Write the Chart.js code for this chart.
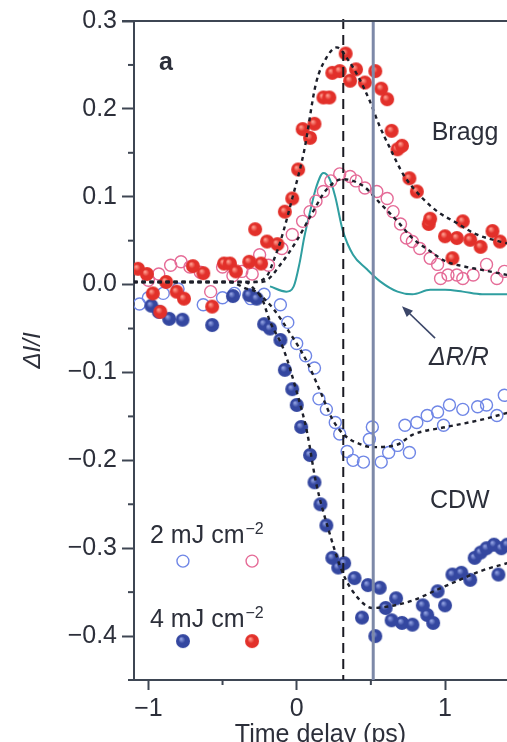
<!DOCTYPE html>
<html>
<head>
<meta charset="utf-8">
<script src="https://cdn.jsdelivr.net/npm/chart.js@4.4.0/dist/chart.umd.min.js"></script>
<style>
  html, body { margin: 0; padding: 0; background: #fff; }
  #wrap { width: 507px; height: 742px; }
</style>
</head>
<body>
<div id="wrap"><canvas id="chart" width="507" height="742"></canvas></div>
<script>
// time delay (ps), dI/I
const bragg4 = [[-1.07,0.018],[-1.01,0.012],[-0.97,-0.010],[-0.92,-0.031],[-0.88,0.003],[-0.81,-0.008],[-0.76,-0.016],[-0.70,0.021],[-0.63,0.013],[-0.57,-0.025],[-0.49,0.024],[-0.45,0.024],[-0.41,0.015],[-0.32,0.026],[-0.28,0.063],[-0.24,0.024],[-0.20,0.049],[-0.13,0.046],[-0.08,0.083],[-0.03,0.098],[0.01,0.131],[0.04,0.177],[0.09,0.167],[0.12,0.183],[0.18,0.213],[0.22,0.213],[0.24,0.241],[0.29,0.243],[0.33,0.263],[0.36,0.232],[0.40,0.245],[0.46,0.230],[0.53,0.243],[0.57,0.223],[0.61,0.211],[0.64,0.175],[0.68,0.154],[0.71,0.158],[0.76,0.121],[0.81,0.106],[0.89,0.069],[0.90,0.075],[1.00,0.055],[1.05,0.030],[1.08,0.053],[1.12,0.072],[1.17,0.051],[1.24,0.043],[1.32,0.061],[1.37,0.049]];
const bragg2 = [[-1.00,0.005],[-0.93,0.012],[-0.85,0.022],[-0.78,0.026],[-0.72,0.020],[-0.65,0.014],[-0.58,-0.008],[-0.50,0.020],[-0.43,0.010],[-0.37,0.015],[-0.30,0.012],[-0.25,0.034],[-0.19,0.022],[-0.10,0.041],[-0.03,0.057],[0.04,0.072],[0.09,0.083],[0.13,0.095],[0.18,0.106],[0.23,0.118],[0.29,0.126],[0.36,0.123],[0.40,0.118],[0.46,0.110],[0.54,0.106],[0.61,0.098],[0.65,0.083],[0.70,0.069],[0.74,0.053],[0.78,0.049],[0.83,0.041],[0.90,0.030],[0.95,0.023],[0.97,0.007],[1.02,0.011],[1.08,0.011],[1.12,0.007],[1.19,0.011],[1.28,0.023],[1.35,0.007],[1.40,0.015]];
const cdw2 = [[-1.06,-0.022],[-1.00,-0.015],[-0.90,-0.010],[-0.80,-0.005],[-0.63,-0.023],[-0.50,-0.015],[-0.42,-0.010],[-0.31,-0.016],[-0.22,-0.011],[-0.11,-0.023],[-0.06,-0.043],[0.00,-0.067],[0.06,-0.081],[0.12,-0.095],[0.15,-0.130],[0.20,-0.142],[0.26,-0.157],[0.29,-0.170],[0.34,-0.190],[0.38,-0.200],[0.45,-0.202],[0.49,-0.176],[0.51,-0.162],[0.57,-0.202],[0.62,-0.191],[0.68,-0.183],[0.73,-0.160],[0.76,-0.191],[0.81,-0.157],[0.88,-0.149],[0.95,-0.145],[0.99,-0.160],[1.03,-0.137],[1.12,-0.142],[1.22,-0.139],[1.28,-0.137],[1.35,-0.149],[1.40,-0.126]];
const cdw4 = [[-0.98,-0.024],[-0.93,-0.031],[-0.86,-0.039],[-0.77,-0.040],[-0.57,-0.046],[-0.43,-0.013],[-0.32,-0.012],[-0.27,-0.016],[-0.22,-0.045],[-0.18,-0.050],[-0.11,-0.063],[-0.08,-0.097],[-0.03,-0.119],[0.00,-0.137],[0.03,-0.162],[0.09,-0.194],[0.12,-0.225],[0.16,-0.250],[0.20,-0.274],[0.24,-0.311],[0.28,-0.322],[0.32,-0.317],[0.39,-0.334],[0.44,-0.379],[0.48,-0.342],[0.53,-0.400],[0.56,-0.345],[0.60,-0.368],[0.64,-0.382],[0.67,-0.357],[0.71,-0.385],[0.78,-0.387],[0.85,-0.365],[0.88,-0.376],[0.92,-0.385],[0.95,-0.349],[1.00,-0.365],[1.05,-0.330],[1.11,-0.328],[1.17,-0.336],[1.20,-0.311],[1.24,-0.305],[1.28,-0.300],[1.33,-0.296],[1.36,-0.330],[1.38,-0.300],[1.42,-0.296]];

// fitted curves
const fitBragg4 = [[-1.1,0.003],[-0.3,0.003],[-0.2,0.010],[-0.15,0.030],[-0.11,0.049],[-0.03,0.098],[0.05,0.152],[0.13,0.229],[0.20,0.258],[0.27,0.270],[0.35,0.255],[0.42,0.235],[0.49,0.210],[0.56,0.180],[0.63,0.155],[0.72,0.125],[0.85,0.098],[0.95,0.083],[1.08,0.070],[1.20,0.058],[1.37,0.049],[1.42,0.047]];
const fitBragg2 = [[-1.1,0.003],[-0.25,0.003],[-0.2,0.005],[-0.1,0.025],[0.0,0.050],[0.1,0.080],[0.2,0.108],[0.31,0.120],[0.45,0.112],[0.56,0.093],[0.68,0.072],[0.78,0.053],[0.90,0.038],[1.01,0.026],[1.12,0.021],[1.24,0.017],[1.42,0.011]];
const fitCdw2 = [[-1.1,0.003],[-0.35,0.003],[-0.27,-0.008],[-0.16,-0.027],[-0.05,-0.054],[0.07,-0.088],[0.16,-0.122],[0.24,-0.153],[0.32,-0.171],[0.45,-0.183],[0.51,-0.185],[0.68,-0.182],[0.78,-0.171],[1.01,-0.162],[1.24,-0.154],[1.42,-0.146]];
const fitCdw4 = [[-1.1,0.003],[-0.45,0.003],[-0.35,-0.004],[-0.24,-0.014],[-0.18,-0.042],[-0.09,-0.073],[0.0,-0.122],[0.07,-0.168],[0.13,-0.225],[0.22,-0.282],[0.31,-0.328],[0.40,-0.354],[0.51,-0.368],[0.63,-0.366],[0.79,-0.359],[0.95,-0.347],[1.10,-0.336],[1.24,-0.326],[1.42,-0.317]];
const deltaR = [[-0.18,-0.002],[-0.07,-0.008],[-0.02,-0.002],[0.02,0.025],[0.05,0.053],[0.10,0.090],[0.13,0.110],[0.18,0.127],[0.22,0.121],[0.26,0.100],[0.31,0.062],[0.38,0.034],[0.47,0.018],[0.56,0.004],[0.68,-0.008],[0.78,-0.011],[0.90,-0.006],[1.00,-0.006],[1.12,-0.008],[1.25,-0.011],[1.42,-0.011]];

const markers = [0.314, 0.516];  // dashed, solid
const yTickLabels = ['−0.4','−0.3','−0.2','−0.1','0.0','0.1','0.2','0.3'];
const xTickLabels = ['−1','0','1'];

const FONT = '"Liberation Sans", Arial, Helvetica, sans-serif';
const INK = '#2c2f3a';
const AXIS = '#3e4653';

function ball(base, light, r) {
  const c = document.createElement('canvas');
  const s = r * 2 + 2;
  c.width = s; c.height = s;
  const g = c.getContext('2d');
  const grad = g.createRadialGradient(s * 0.38, s * 0.36, 0.5, s / 2, s / 2, r);
  grad.addColorStop(0, light);
  grad.addColorStop(0.45, base);
  grad.addColorStop(1, base);
  g.fillStyle = grad;
  g.beginPath(); g.arc(s / 2, s / 2, r, 0, Math.PI * 2); g.fill();
  return c;
}
const redBall = ball('#e2302a', '#ff9a8c', 7);
const blueBall = ball('#3447a0', '#8f9fe0', 7);

const pts = arr => arr.map(p => ({x: p[0], y: p[1]}));

function fitSet(arr) {
  return {
    data: pts(arr), showLine: true, pointRadius: 0, borderColor: '#1d1f2a',
    borderWidth: 2.4, borderDash: [4, 4], cubicInterpolationMode: 'monotone', fill: false
  };
}

const isMajorY = v => Math.abs(Math.round(v * 20)) % 2 === 0;
const isMajorX = v => Math.abs(v - Math.round(v)) < 1e-6;

const extras = {
  id: 'extras',
  afterDatasetsDraw(chart) {
    const {ctx, chartArea: a, scales: {x}} = chart;
    ctx.save();
    // vertical markers
    let px = x.getPixelForValue(markers[0]);
    ctx.strokeStyle = '#1a1a22'; ctx.lineWidth = 2; ctx.setLineDash([10, 6]);
    ctx.beginPath(); ctx.moveTo(px, a.top - 2); ctx.lineTo(px, a.bottom); ctx.stroke();
    ctx.setLineDash([]);
    px = x.getPixelForValue(markers[1]);
    ctx.strokeStyle = '#7d89a8'; ctx.lineWidth = 3;
    ctx.beginPath(); ctx.moveTo(px, a.top); ctx.lineTo(px, a.bottom); ctx.stroke();
    ctx.restore();
  },
  afterDraw(chart) {
    const {ctx, chartArea: a, scales: {x, y}} = chart;
    const P = (t, v) => [x.getPixelForValue(t), y.getPixelForValue(v)];
    ctx.save();
    // top frame line
    ctx.strokeStyle = AXIS; ctx.lineWidth = 2;
    ctx.beginPath(); ctx.moveTo(a.left - 12, a.top); ctx.lineTo(a.right, a.top); ctx.stroke();
    // minor ticks
    y.ticks.forEach(tk => {
      if (isMajorY(tk.value)) return;
      const py = y.getPixelForValue(tk.value);
      ctx.beginPath(); ctx.moveTo(a.left - 6, py); ctx.lineTo(a.left, py); ctx.stroke();
    });
    x.ticks.forEach(tk => {
      if (isMajorX(tk.value)) return;
      const px = x.getPixelForValue(tk.value);
      ctx.beginPath(); ctx.moveTo(px, a.bottom); ctx.lineTo(px, a.bottom + 5); ctx.stroke();
    });

    ctx.fillStyle = INK;
    ctx.textBaseline = 'alphabetic';
    ctx.textAlign = 'center';
    let p = P(-0.881, 0.244);
    ctx.font = 'bold 25px ' + FONT;
    ctx.fillText('a', p[0], p[1]);
    ctx.font = '25px ' + FONT;
    p = P(1.135, 0.164); ctx.fillText('Bragg', p[0], p[1]);
    p = P(1.10, -0.2543); ctx.fillText('CDW', p[0], p[1]);
    ctx.font = 'italic 25px ' + FONT;
    p = P(1.094, -0.0917); ctx.fillText('ΔR/R', p[0], p[1]);

    // arrow to the reflectivity trace
    const tail = P(0.933, -0.061), tip = P(0.71, -0.0246);
    ctx.strokeStyle = '#3b4668'; ctx.fillStyle = '#3b4668'; ctx.lineWidth = 1.6;
    const ang = Math.atan2(tip[1] - tail[1], tip[0] - tail[0]);
    ctx.beginPath(); ctx.moveTo(tail[0], tail[1]);
    ctx.lineTo(tip[0] - 8 * Math.cos(ang), tip[1] - 8 * Math.sin(ang)); ctx.stroke();
    ctx.beginPath();
    ctx.moveTo(tip[0], tip[1]);
    ctx.lineTo(tip[0] - 11 * Math.cos(ang) + 4.5 * Math.sin(ang), tip[1] - 11 * Math.sin(ang) - 4.5 * Math.cos(ang));
    ctx.lineTo(tip[0] - 11 * Math.cos(ang) - 4.5 * Math.sin(ang), tip[1] - 11 * Math.sin(ang) + 4.5 * Math.cos(ang));
    ctx.closePath(); ctx.fill();

    // legend
    ctx.fillStyle = INK;
    ctx.textAlign = 'left';
    [['2 mJ cm', -0.294], ['4 mJ cm', -0.3897]].forEach(([txt, v]) => {
      const q = P(-0.989, v);
      ctx.font = '25px ' + FONT;
      ctx.fillText(txt, q[0], q[1]);
      const w = ctx.measureText(txt).width;
      ctx.font = '16px ' + FONT;
      ctx.fillText('−2', q[0] + w + 1, q[1] - 9);
    });
    ctx.lineWidth = 1.4;
    let q = P(-0.767, -0.3147);
    ctx.strokeStyle = '#6f86e6'; ctx.beginPath(); ctx.arc(q[0], q[1], 6, 0, Math.PI * 2); ctx.stroke();
    q = P(-0.301, -0.3147);
    ctx.strokeStyle = '#e56b97'; ctx.beginPath(); ctx.arc(q[0], q[1], 6, 0, Math.PI * 2); ctx.stroke();
    q = P(-0.767, -0.4057);
    ctx.drawImage(blueBall, q[0] - 8, q[1] - 8);
    q = P(-0.301, -0.4057);
    ctx.drawImage(redBall, q[0] - 8, q[1] - 8);
    ctx.restore();
  }
};

const ctx = document.getElementById('chart').getContext('2d');
new Chart(ctx, {
  type: 'scatter',
  data: {
    datasets: [
      fitSet(fitBragg4),
      fitSet(fitBragg2),
      fitSet(fitCdw2),
      fitSet(fitCdw4),
      {data: pts(bragg4), pointStyle: redBall, pointRadius: 7},
      {data: pts(cdw4), pointStyle: blueBall, pointRadius: 7},
      {data: pts(bragg2), pointStyle: 'circle', pointRadius: 6, borderColor: '#e56b97', backgroundColor: 'rgba(255,255,255,0)', borderWidth: 1.4},
      {data: pts(cdw2), pointStyle: 'circle', pointRadius: 6, borderColor: '#6f86e6', backgroundColor: 'rgba(255,255,255,0)', borderWidth: 1.4},
      {data: pts(deltaR), showLine: true, pointRadius: 0, borderColor: '#2f9ea0', borderWidth: 2, cubicInterpolationMode: 'monotone'}
    ]
  },
  options: {
    responsive: false,
    animation: false,
    devicePixelRatio: 1,
    layout: {autoPadding: false, padding: {top: 21, right: 0, left: 0, bottom: 0}},
    plugins: {legend: {display: false}, tooltip: {enabled: false}},
    scales: {
      x: {
        type: 'linear', min: -1.097, max: 1.418,
        afterFit: s => { s.height = 62; s.paddingLeft = 0; s.paddingRight = 0; },
        border: {color: AXIS, width: 2},
        grid: {drawOnChartArea: false, tickLength: 10, tickWidth: 2,
          tickColor: c => isMajorX(c.tick.value) ? AXIS : 'rgba(0,0,0,0)'},
        ticks: {
          stepSize: 0.5, includeBounds: false, autoSkip: false, maxRotation: 0,
          padding: 4, color: INK, font: {family: FONT, size: 25},
          callback: v => isMajorX(v) ? xTickLabels[Math.round(v) + 1] : ''
        },
        title: {display: true, text: 'Time delay (ps)', color: INK, font: {family: FONT, size: 25}, padding: {top: 0, bottom: -8}}
      },
      y: {
        type: 'linear', min: -0.45, max: 0.3,
        afterFit: s => { s.width = 134; s.paddingTop = 0; s.paddingBottom = 0; },
        border: {color: AXIS, width: 2},
        grid: {drawOnChartArea: false, tickLength: 12, tickWidth: 2,
          tickColor: c => isMajorY(c.tick.value) ? AXIS : 'rgba(0,0,0,0)'},
        ticks: {
          stepSize: 0.05, includeBounds: false, autoSkip: false,
          padding: 5, color: INK, font: {family: FONT, size: 25},
          callback: v => isMajorY(v) ? yTickLabels[Math.round(v * 10) + 4] : ''
        },
        title: {display: true, text: 'ΔI/I', color: INK, font: {family: FONT, size: 24, style: 'italic'}, padding: {top: 19, bottom: 0}}
      }
    }
  },
  plugins: [extras]
});
</script>
</body>
</html>
